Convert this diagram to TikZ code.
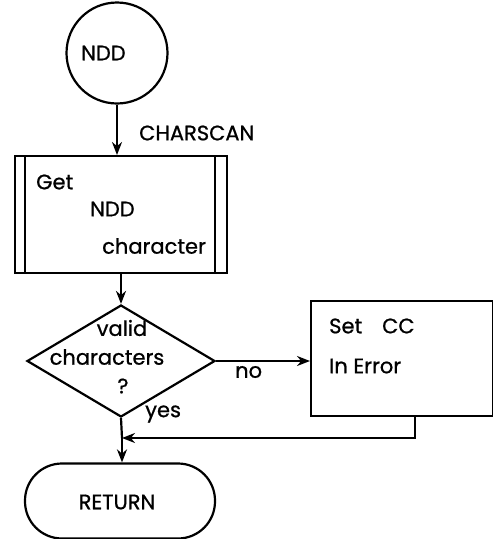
\documentclass[tikz,border=0pt]{standalone}
\usepackage{fontspec}
\setmainfont{Poppins}[FakeBold=0.8]
\usetikzlibrary{shapes.geometric,arrows.meta}
\begin{document}
\begin{tikzpicture}[x=1pt,y=-1pt,
  every node/.style={font=\fontsize{21}{25}\selectfont},
  lw/.style={line width=2.2pt},
  arr/.style={line width=2.2pt,-{Stealth[length=13pt,width=10pt]}},
  lbl/.style={inner sep=0pt,anchor=west}]
\useasboundingbox (0,0) rectangle (493,539);
% start circle
\node[draw,lw,circle,minimum size=101pt,inner sep=0pt] (ndd) at (117,53) {};
\node[lbl] (nddt) at (81,53) {NDD};
% predefined process box
\node[draw,lw,rectangle,minimum width=212pt,minimum height=117pt,inner sep=0pt,anchor=north west] (get) at (14,155) {};
\draw[lw] ([xshift=11pt]get.north west) -- ([xshift=11pt]get.south west);
\draw[lw] ([xshift=-13pt]get.north east) -- ([xshift=-13pt]get.south east);
\node[lbl] (t1) at (36,182) {Get};
\node[lbl] (t2) at (90,209) {NDD};
\node[lbl] (t3) at (102,246) {character};
% label
\node[lbl] (cs) at (139,133) {CHARSCAN};
% decision diamond
\node[draw,lw,diamond,minimum width=188pt,minimum height=112pt,inner sep=0pt] (dec) at (121,361) {};
\node (d1) at (122,328) {valid};
\node (d2) at (107,357) {characters};
\node (d3) at (123,386) {?};
% set cc box
\node[draw,lw,rectangle,minimum width=182pt,minimum height=115pt,inner sep=0pt,anchor=north west] (set) at (310,300) {};
\node[lbl] (s1) at (329,326) {Set\hspace{20pt}CC};
\node[lbl] (s2) at (329,366) {In Error};
% return terminal
\node[draw,lw,rectangle,rounded corners=37pt,minimum width=190pt,minimum height=75pt,inner sep=0pt] (ret) at (120,501) {};
\node (rt) at (117,502) {RETURN};
% labels
\node[lbl] (no) at (235,372) {no};
\node[lbl] (yes) at (145,414) {yes};
\coordinate (j) at (122,438);
\coordinate (sb) at (415,415);
% connectors
\draw[arr] (ndd.south) -- (get.north -| ndd.south);
\draw[arr] (get.south -| dec.north) -- (dec.north);
\draw[arr] (dec.east) -- (dec.east -| set.west);
\draw[lw] (dec.south) -- (j);
\draw[arr] (j) -- (j |- ret.north);
\draw[arr] (sb) |- (j);
\end{tikzpicture}
\end{document}
